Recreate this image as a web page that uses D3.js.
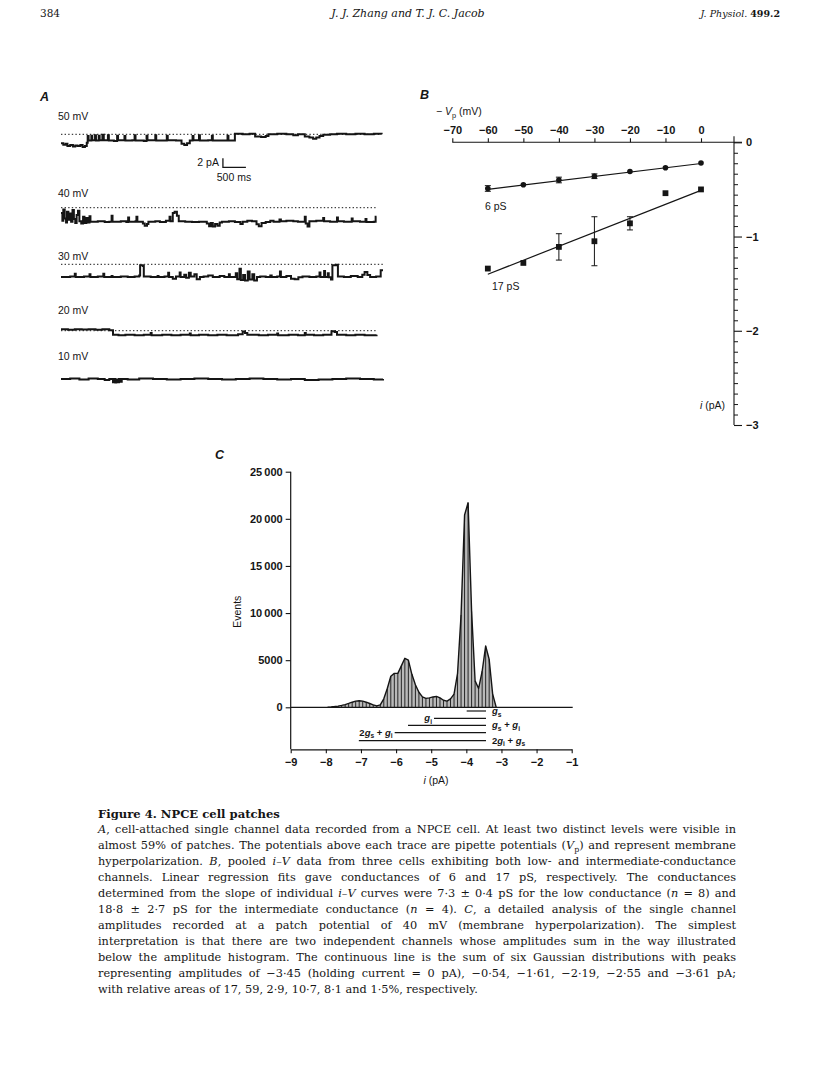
<!DOCTYPE html>
<html><head><meta charset="utf-8">
<script src="https://cdn.jsdelivr.net/npm/d3@7"></script>
<style>body{margin:0;background:#fff}svg{display:block}</style>
</head><body>
<svg id="c" width="816" height="1088"></svg>
<script>
// ---------------- DATA ----------------
// Panel A: single-channel traces, [time (s), current (pA) relative to closed level]
const traceLabels = ["50 mV", "40 mV", "30 mV", "20 mV", "10 mV"];
const trace50 = [[0.00,-2.0],[0.05,-2.3],[0.10,-2.1],[0.14,-2.6],[0.20,-2.4],[0.26,-2.7],[0.31,-2.5],[0.36,-2.6],[0.42,-2.4],[0.47,-2.8],[0.52,-2.6],[0.56,-1.9],
 [0.58,-0.4],[0.60,-1.4],[0.66,-0.3],[0.68,-1.3],[0.74,-0.2],[0.76,-1.4],[0.82,-0.3],[0.84,-1.3],[0.90,-0.1],[0.93,-1.3],[1.02,-0.2],[1.04,-1.4],[1.15,-1.5],[1.22,-0.3],[1.24,-1.3],[1.38,-0.4],[1.40,-1.4],[1.55,-1.3],[1.60,-0.2],[1.62,-1.4],[1.80,-1.5],[1.86,-0.3],[1.88,-1.3],[2.05,-0.2],[2.07,-1.4],[2.30,-0.3],[2.32,-1.3],[2.50,-1.4],[2.62,-2.1],[2.68,-2.4],[2.74,-2.0],[2.80,-1.4],[2.86,-0.4],[2.88,-1.3],[3.00,-0.2],[3.02,-1.4],[3.20,-1.3],[3.28,-0.3],[3.30,-1.4],[3.50,-1.4],[3.62,-0.3],[3.64,-1.4],
 [3.78,0.1],[3.95,0.0],[4.10,0.1],[4.22,-0.5],[4.35,-0.6],[4.45,-0.4],[4.51,0.0],[4.70,0.1],[4.90,0.0],[5.05,-0.2],[5.15,0.0],[5.30,-0.5],[5.40,-0.7],[5.48,-1.0],[5.55,-0.7],[5.62,-0.4],[5.70,-0.1],[5.85,0.0],[6.00,0.1],[6.20,0.0],[6.40,0.1],[6.60,0.0],[6.80,0.1],[6.97,0.0]];
const trace40 = [[0.00,-1.2],[0.03,-2.9],[0.05,-0.4],[0.08,-2.4],[0.11,-3.3],[0.13,-0.9],[0.16,-2.7],[0.19,-1.3],[0.22,-3.1],[0.25,-0.5],[0.28,-2.5],[0.31,-3.4],[0.34,-1.6],[0.37,-0.7],[0.40,-3.0],[0.44,-3.5],[0.48,-2.0],[0.51,-3.4],[0.55,-2.3],[0.58,-3.3],[0.62,-1.9],[0.64,-3.1],
 [0.80,-3.0],[0.95,-3.2],[1.05,-3.1],[1.10,-1.8],[1.12,-3.1],[1.30,-3.0],[1.42,-3.2],[1.46,-2.2],[1.48,-3.1],[1.62,-3.0],[1.64,-2.0],[1.66,-3.1],[1.78,-3.5],[1.82,-4.0],[1.87,-3.6],[1.90,-3.1],[2.05,-3.0],[2.15,-3.2],[2.28,-2.9],[2.36,-2.0],[2.38,-3.0],[2.43,-1.2],[2.47,-0.9],[2.52,-1.8],[2.56,-3.0],[2.70,-3.1],[2.85,-3.2],[3.00,-3.1],[3.17,-3.5],[3.22,-4.1],[3.26,-3.4],[3.30,-4.2],[3.35,-3.6],[3.40,-4.0],[3.45,-3.3],[3.50,-3.1],[3.65,-3.0],[3.78,-3.2],[3.90,-3.6],[3.95,-3.1],[4.05,-2.9],[4.15,-3.0],[4.25,-3.7],[4.30,-4.1],[4.36,-3.4],[4.45,-3.2],[4.55,-2.9],[4.62,-3.1],[4.75,-2.6],[4.78,-3.0],[4.90,-2.9],[5.05,-3.0],[5.15,-3.1],[5.30,-2.0],[5.32,-3.5],[5.36,-4.2],[5.40,-3.0],[5.55,-2.9],[5.70,-2.3],[5.72,-3.0],[5.85,-3.1],[6.00,-2.2],[6.02,-3.0],[6.15,-3.1],[6.32,-2.4],[6.34,-3.0],[6.50,-3.1],[6.62,-2.5],[6.64,-3.2],[6.80,-3.1],[6.84,-2.0],[6.86,-2.0]];
const trace30 = [[0.00,-2.8],[0.20,-2.7],[0.30,-2.1],[0.32,-2.8],[0.50,-2.7],[0.62,-2.2],[0.64,-2.8],[0.80,-2.7],[0.92,-2.1],[0.94,-2.8],[1.10,-2.6],[1.12,-2.8],[1.30,-2.7],[1.45,-2.8],[1.60,-2.7],[1.70,-2.5],[1.72,-0.2],[1.78,-0.4],[1.80,-2.7],[1.95,-2.8],[2.10,-2.6],[2.12,-2.8],[2.25,-2.7],[2.33,-1.9],[2.35,-2.8],[2.43,-3.2],[2.50,-2.7],[2.58,-1.8],[2.60,-2.8],[2.68,-2.3],[2.72,-3.0],[2.78,-1.9],[2.82,-2.7],[2.90,-2.2],[2.95,-3.3],[3.02,-2.8],[3.10,-2.7],[3.20,-2.5],[3.30,-2.8],[3.45,-2.6],[3.55,-2.8],[3.65,-2.2],[3.67,-2.8],[3.80,-2.0],[3.83,-3.3],[3.88,-1.0],[3.91,-3.5],[3.96,-2.4],[4.00,-3.6],[4.06,-1.6],[4.10,-3.4],[4.16,-2.2],[4.20,-3.6],[4.26,-2.8],[4.33,-2.7],[4.45,-2.8],[4.55,-2.5],[4.58,-2.8],[4.70,-2.7],[4.76,-1.6],[4.78,-2.8],[4.90,-2.6],[5.00,-3.2],[5.08,-3.3],[5.16,-2.9],[5.25,-2.7],[5.40,-2.8],[5.55,-2.7],[5.62,-1.8],[5.64,-2.8],[5.72,-1.5],[5.74,-2.8],[5.80,-2.0],[5.82,-2.9],[5.87,-3.4],[5.90,-0.2],[5.98,-0.1],[6.02,-2.7],[6.15,-2.8],[6.30,-2.6],[6.45,-2.8],[6.55,-2.3],[6.60,-1.7],[6.66,-2.4],[6.72,-2.8],[6.85,-2.7],[6.95,-1.3],[7.00,-1.3]];
const trace20 = [[0.00,0.3],[0.15,0.2],[0.30,0.35],[0.45,0.25],[0.60,0.3],[0.75,0.2],[0.90,0.3],[1.05,0.1],[1.13,-0.9],[1.25,-1.0],[1.40,-0.9],[1.60,-1.0],[1.80,-0.9],[1.95,-0.5],[1.97,-1.0],[2.20,-0.9],[2.40,-1.0],[2.60,-0.9],[2.80,-0.6],[2.82,-1.0],[3.00,-0.9],[3.20,-1.0],[3.40,-0.9],[3.60,-1.0],[3.85,-0.8],[3.95,-0.2],[4.00,-0.5],[4.05,-0.9],[4.30,-1.0],[4.50,-0.9],[4.70,-0.6],[4.72,-1.0],[4.95,-0.9],[5.15,-1.0],[5.30,-0.5],[5.32,-0.9],[5.50,-1.0],[5.70,-0.9],[5.88,-0.1],[5.95,-0.3],[6.00,-0.9],[6.20,-1.0],[6.40,-0.9],[6.60,-1.0],[6.86,-0.9]];
const trace10 = [[0.00,0.0],[0.20,0.1],[0.40,-0.1],[0.60,0.1],[0.80,0.0],[0.95,-0.2],[1.05,0.0],[1.13,-0.7],[1.15,0.0],[1.18,-0.8],[1.20,-0.1],[1.24,-0.7],[1.26,0.0],[1.30,-0.6],[1.32,0.0],[1.45,-0.1],[1.70,0.1],[2.00,0.0],[2.30,-0.1],[2.60,0.0],[2.90,0.1],[3.20,0.0],[3.50,-0.1],[3.80,0.0],[4.10,0.1],[4.40,0.0],[4.70,-0.1],[5.00,0.0],[5.30,-0.2],[5.60,-0.1],[5.90,0.0],[6.20,0.1],[6.50,0.0],[6.80,-0.1],[7.00,0.0]];
const scaleBarAmp = 2;     // pA
const scaleBarTime = 0.5;  // s

// Panel B: i–V data
const vp = [-60, -50, -40, -30, -20, -10, 0];
const i6 = [-0.49, -0.45, -0.40, -0.36, -0.31, -0.27, -0.22];
const err6 = [0.03, 0, 0.03, 0.025, 0, 0, 0];
const i17 = [-1.34, -1.28, -1.11, -1.05, -0.86, -0.54, -0.50];
const err17 = [0, 0, 0.14, 0.26, 0.07, 0, 0];
const fit6 = [[-60, -0.50], [0, -0.225]];
const fit17 = [[-60, -1.40], [0, -0.51]];
const xTicksB = [-70, -60, -50, -40, -30, -20, -10, 0];
const yTicksB = [0, -1, -2, -3];

// Panel C: amplitude histogram
const binCenters = [-7.95,-7.85,-7.75,-7.65,-7.55,-7.45,-7.35,-7.25,-7.15,-7.05,-6.95,-6.85,-6.75,-6.65,-6.55,-6.45,-6.35,-6.25,-6.15,-6.05,-5.95,-5.85,-5.75,-5.65,-5.55,-5.45,-5.35,-5.25,-5.15,-5.05,-4.95,-4.85,-4.75,-4.65,-4.55,-4.45,-4.35,-4.25,-4.15,-4.05,-3.95,-3.85,-3.75,-3.65,-3.55,-3.45,-3.35,-3.25,-3.15];
const binCounts  = [20,40,80,130,200,290,410,540,650,700,650,540,400,260,150,250,900,2000,3300,3600,3600,4400,5200,5000,3500,2400,1600,1100,950,1000,1100,1150,1000,750,650,900,1400,3600,9800,20400,21700,10200,2800,2000,3800,6500,5100,1400,0];
const yTicksC = [0, 5000, 10000, 15000, 20000, 25000];
const xTicksC = [-9, -8, -7, -6, -5, -4, -3, -2, -1];
const levelLabels = ["*g*_{s}", "*g*_{i}", "*g*_{s} + *g*_{i}", "2*g*_{s} + *g*_{i}", "2*g*_{i} + *g*_{s}"];
const levelStart = [-3.99, -4.92, -5.66, -6.04, -7.06];
const levelEnd = -3.44;
const levelLabelSide = ["right", "left", "right", "left", "right"];

// Caption
const captionTitle = "Figure 4. NPCE cell patches";
const captionLines = [
 "*A*, cell-attached single channel data recorded from a NPCE cell. At least two distinct levels were visible in",
 "almost 59% of patches. The potentials above each trace are pipette potentials (*V*_{p}) and represent membrane",
 "hyperpolarization. *B*, pooled *i–V* data from three cells exhibiting both low- and intermediate-conductance",
 "channels. Linear regression fits gave conductances of 6 and 17 pS, respectively. The conductances",
 "determined from the slope of individual *i–V* curves were 7·3 ± 0·4 pS for the low conductance (*n* = 8) and",
 "18·8 ± 2·7 pS for the intermediate conductance (*n* = 4). *C*, a detailed analysis of the single channel",
 "amplitudes recorded at a patch potential of 40 mV (membrane hyperpolarization). The simplest",
 "interpretation is that there are two independent channels whose amplitudes sum in the way illustrated",
 "below the amplitude histogram. The continuous line is the sum of six Gaussian distributions with peaks",
 "representing amplitudes of −3·45 (holding current = 0 pA), −0·54, −1·61, −2·19, −2·55 and −3·61 pA;",
 "with relative areas of 17, 59, 2·9, 10·7, 8·1 and 1·5%, respectively."
];

// ---------------- DRAWING ----------------
const svg = d3.select("#c");
const SANS = "'Liberation Sans', Arial, Helvetica, sans-serif";
const SERIF = "'DejaVu Serif', 'Liberation Serif', serif";
const INK = "#151515";
const minus = v => (v < 0 ? "\u2212" + Math.abs(v) : String(v));

function rich(g, str, x, y, opt) {
  const t = g.append("text").attr("x", x).attr("y", y)
    .attr("font-family", opt.family).attr("font-size", opt.size)
    .attr("text-anchor", opt.anchor || "start").attr("fill", INK);
  if (opt.weight) t.attr("font-weight", opt.weight);
  if (opt.italic) t.attr("font-style", "italic");
  const parts = str.split(/(\*[^*]+\*|_\{[^}]+\})/).filter(s => s.length);
  let shifted = false;
  const sh = opt.size * 0.28;
  parts.forEach(p => {
    const ts = t.append("tspan");
    if (p.startsWith("_{")) {
      ts.text(p.slice(2, -1)).attr("font-size", opt.size * 0.7).attr("dy", shifted ? 0 : sh);
      shifted = true; return;
    }
    if (p.startsWith("*")) ts.text(p.slice(1, -1)).attr("font-style", "italic");
    else ts.text(p);
    if (shifted) { ts.attr("dy", -sh); shifted = false; }
  });
  return t;
}

// Header
svg.append("text").attr("x", 40).attr("y", 17).attr("font-family", SERIF).attr("font-size", 10.5).attr("fill", INK).text("384");
svg.append("text").attr("x", 408).attr("y", 17).attr("text-anchor", "middle").attr("font-family", SERIF).attr("font-size", 11).attr("font-style", "italic").attr("fill", INK).text("J. J. Zhang and T. J. C. Jacob");
const hr = svg.append("text").attr("x", 780).attr("y", 17).attr("text-anchor", "end").attr("font-family", SERIF).attr("font-size", 9.5).attr("fill", INK);
hr.append("tspan").attr("font-style", "italic").text("J. Physiol. ");
hr.append("tspan").attr("font-weight", "bold").text("499.2");

// Panel letters
[["A", 40, 100.5], ["B", 420, 99], ["C", 215, 459]].forEach(([s, x, y]) =>
  svg.append("text").attr("x", x).attr("y", y).attr("font-family", SANS).attr("font-size", 12.5)
    .attr("font-style", "italic").attr("font-weight", "bold").attr("fill", INK).text(s));

// ---- Panel A ----
const gA = svg.append("g");
const tX = d3.scaleLinear().domain([0, 7]).range([61, 383]);
const traces = [trace50, trace40, trace30, trace20, trace10];
const closedY = [134.3, 207.7, 264.3, 330.7, 379];
const labelY = [120, 197, 259.5, 313.5, 360];
const pxPerPA = 4.5;
traces.forEach((d, k) => {
  const y = d3.scaleLinear().domain([0, -1]).range([closedY[k], closedY[k] + pxPerPA]);
  gA.append("text").attr("x", 58).attr("y", labelY[k]).attr("font-family", SANS).attr("font-size", 10.5)
    .attr("fill", INK).text(traceLabels[k]);
  if (k < 4) {
    gA.append("line").attr("x1", tX(0)).attr("x2", tX(d[d.length - 1][0]))
      .attr("y1", y(0)).attr("y2", y(0)).attr("stroke", INK).attr("stroke-width", 1)
      .attr("stroke-dasharray", "1.4,2.2");
  }
  const line = d3.line().x(p => tX(p[0])).y(p => y(p[1])).curve(d3.curveStepAfter);
  gA.append("path").attr("d", line(d)).attr("fill", "none").attr("stroke", INK)
    .attr("stroke-width", 2).attr("stroke-linejoin", "miter");
});
// scale bar
{
  const t0 = 3.52, yb = 167.3;
  const yS = d3.scaleLinear().domain([0, scaleBarAmp]).range([yb, yb - scaleBarAmp * pxPerPA]);
  gA.append("path").attr("d", `M${tX(t0)},${yS(scaleBarAmp)}V${yS(0)}H${tX(t0 + scaleBarTime)}`)
    .attr("fill", "none").attr("stroke", INK).attr("stroke-width", 1.3);
  gA.append("text").attr("x", tX(t0) - 4).attr("y", 166).attr("text-anchor", "end").attr("font-family", SANS)
    .attr("font-size", 10.5).attr("fill", INK).text(scaleBarAmp + " pA");
  gA.append("text").attr("x", 234).attr("y", 180.5).attr("text-anchor", "middle").attr("font-family", SANS)
    .attr("font-size", 10.5).attr("fill", INK).text(scaleBarTime * 1000 + " ms");
}

// ---- Panel B ----
const gB = svg.append("g");
const xB = d3.scaleLinear().domain([-70, 0]).range([452.3, 701]);
const yB = d3.scaleLinear().domain([0, -3]).range([142.3, 425]);
const axXB = 734;
const axTop = gB.append("g").attr("transform", `translate(0,${yB(0)})`)
  .call(d3.axisTop(xB).tickValues(xTicksB).tickSize(4).tickSizeOuter(0).tickFormat(minus));
axTop.select(".domain").remove();
axTop.selectAll("line").attr("stroke", INK).attr("stroke-width", 1.1);
axTop.selectAll("text").attr("font-family", SANS).attr("font-size", 11).attr("font-weight", "bold")
  .attr("fill", INK).attr("dy", 0).attr("y", -8);
gB.append("line").attr("x1", xB(-70)).attr("x2", axXB + 8).attr("y1", yB(0)).attr("y2", yB(0))
  .attr("stroke", INK).attr("stroke-width", 1.1);
gB.append("line").attr("x1", axXB).attr("x2", axXB).attr("y1", yB(0) - 6).attr("y2", yB(-3))
  .attr("stroke", INK).attr("stroke-width", 1.1);
const minorB = d3.range(0, 27).map(k => -k / 9).filter(v => !yTicksB.includes(Math.round(v * 1000) / 1000));
const axMin = gB.append("g").attr("transform", `translate(${axXB},0)`)
  .call(d3.axisRight(yB).tickValues(minorB).tickSize(4).tickFormat(""));
axMin.select(".domain").remove();
axMin.selectAll("line").attr("stroke", INK).attr("stroke-width", 1);
const axR = gB.append("g").attr("transform", `translate(${axXB},0)`)
  .call(d3.axisRight(yB).tickValues(yTicksB).tickSize(8).tickFormat(minus));
axR.select(".domain").remove();
axR.selectAll("line").attr("stroke", INK).attr("stroke-width", 1.1);
axR.selectAll("text").attr("font-family", SANS).attr("font-size", 11).attr("font-weight", "bold")
  .attr("fill", INK).attr("x", 12);
rich(gB, "\u2212 *V*_{p} (mV)", 436, 115, {family: SANS, size: 10.5});
rich(gB, "*i* (pA)", 700, 409, {family: SANS, size: 10.5});
const lineB = d3.line().x(p => xB(p[0])).y(p => yB(p[1]));
[fit6, fit17].forEach(f => gB.append("path").attr("d", lineB(f)).attr("fill", "none")
  .attr("stroke", INK).attr("stroke-width", 1.2));
function errBars(vals, errs) {
  vp.forEach((v, k) => {
    if (!errs[k]) return;
    const x = xB(v), y1 = yB(vals[k] - errs[k]), y2 = yB(vals[k] + errs[k]);
    gB.append("path").attr("d", `M${x},${y1}V${y2}M${x - 3},${y1}H${x + 3}M${x - 3},${y2}H${x + 3}`)
      .attr("fill", "none").attr("stroke", INK).attr("stroke-width", 1);
  });
}
errBars(i6, err6); errBars(i17, err17);
gB.selectAll("circle.p6").data(vp).join("circle").attr("class", "p6")
  .attr("cx", (v) => xB(v)).attr("cy", (v, k) => yB(i6[k])).attr("r", 2.8).attr("fill", INK);
gB.selectAll("rect.p17").data(vp).join("rect").attr("class", "p17")
  .attr("x", v => xB(v) - 2.9).attr("y", (v, k) => yB(i17[k]) - 2.9).attr("width", 5.8).attr("height", 5.8).attr("fill", INK);
gB.append("text").attr("x", 485).attr("y", 210).attr("font-family", SANS).attr("font-size", 10.5).attr("fill", INK).text("6 pS");
gB.append("text").attr("x", 492).attr("y", 290).attr("font-family", SANS).attr("font-size", 10.5).attr("fill", INK).text("17 pS");

// ---- Panel C ----
const gC = svg.append("g");
const xC = d3.scaleLinear().domain([-9, -1]).range([290.7, 571.7]);
const yC = d3.scaleLinear().domain([0, 25000]).range([707.3, 471.7]);
const axYC = 749.3;
const bins = binCenters.map((c, k) => [c, binCounts[k]]);
gC.append("path").attr("d", d3.area().x(d => xC(d[0])).y0(yC(0)).y1(d => yC(d[1]))(bins))
  .attr("fill", "#b9b9b9");
gC.selectAll("line.bar").data(bins).join("line").attr("class", "bar")
  .attr("x1", d => xC(d[0])).attr("x2", d => xC(d[0])).attr("y1", yC(0)).attr("y2", d => yC(d[1]))
  .attr("stroke", INK).attr("stroke-width", 0.9);
gC.append("path").attr("d", d3.line().x(d => xC(d[0])).y(d => yC(d[1]))(bins))
  .attr("fill", "none").attr("stroke", INK).attr("stroke-width", 1.4).attr("stroke-linejoin", "round");
gC.append("line").attr("x1", xC(-9)).attr("x2", xC(-1) + 1).attr("y1", yC(0)).attr("y2", yC(0))
  .attr("stroke", INK).attr("stroke-width", 1.2);
gC.append("line").attr("x1", xC(-9)).attr("x2", xC(-9)).attr("y1", yC(25000)).attr("y2", axYC)
  .attr("stroke", INK).attr("stroke-width", 1.2);
const axL = gC.append("g").attr("transform", `translate(${xC(-9)},0)`)
  .call(d3.axisLeft(yC).tickValues(yTicksC).tickSize(5).tickFormat(v => v >= 10000 ? d3.format("d")(v).replace(/(\d\d)(\d{3})$/, "$1\u2009$2") : String(v)));
axL.select(".domain").remove();
axL.selectAll("line").attr("stroke", INK).attr("stroke-width", 1.1);
axL.selectAll("text").attr("font-family", SANS).attr("font-size", 11).attr("font-weight", "bold")
  .attr("fill", INK).attr("x", -8);
const axB = gC.append("g").attr("transform", `translate(0,${axYC})`)
  .call(d3.axisBottom(xC).tickValues(xTicksC).tickSize(4).tickSizeOuter(0).tickFormat(minus));
axB.select(".domain").attr("stroke", INK).attr("stroke-width", 1.2);
axB.selectAll("line").attr("stroke", INK).attr("stroke-width", 1.1);
axB.selectAll("text").attr("font-family", SANS).attr("font-size", 11).attr("font-weight", "bold")
  .attr("fill", INK).attr("y", 9);
rich(gC, "*i* (pA)", 436, 784, {family: SANS, size: 10.5, anchor: "middle"});
gC.append("text").attr("transform", "translate(240.5,611.7) rotate(-90)").attr("text-anchor", "middle")
  .attr("font-family", SANS).attr("font-size", 10.5).attr("fill", INK).text("Events");
const rowY = [711, 718.3, 725.3, 732.7, 740.7];
levelLabels.forEach((lab, k) => {
  gC.append("line").attr("x1", xC(levelStart[k])).attr("x2", xC(levelEnd)).attr("y1", rowY[k]).attr("y2", rowY[k])
    .attr("stroke", INK).attr("stroke-width", 1.2);
  if (levelLabelSide[k] === "right")
    rich(gC, lab, xC(levelEnd) + 6, rowY[k] + 3, {family: SANS, size: 9.5, weight: "bold"});
  else
    rich(gC, lab, xC(levelStart[k]) - 2, rowY[k] + 3, {family: SANS, size: 9.5, weight: "bold", anchor: "end"});
});

// ---- Caption ----
const gT = svg.append("g");
gT.append("text").attr("x", 98).attr("y", 818).attr("font-family", SERIF).attr("font-size", 11.6)
  .attr("font-weight", "bold").attr("fill", INK).text(captionTitle);
const capW = 638;
captionLines.forEach((ln, k) => {
  const t = rich(gT, ln, 98, 833 + k * 16, {family: SERIF, size: 11.3});
  if (k < captionLines.length - 1) {
    const nat = t.node().getComputedTextLength();
    const spaces = (ln.match(/ /g) || []).length;
    t.attr("word-spacing", (capW - nat) / spaces);
  }
});
</script>
</body></html>
